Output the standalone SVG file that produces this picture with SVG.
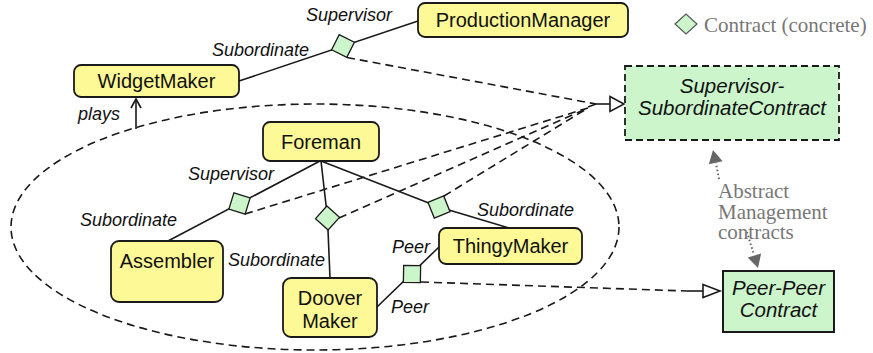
<svg xmlns="http://www.w3.org/2000/svg" width="873" height="353" viewBox="0 0 873 353">
  <style>
    .node rect { fill: #fdf996; stroke: #1a1a1a; stroke-width: 1.8; }
    .ntext { font-family: "Liberation Sans", Arial, sans-serif; font-size: 20px; fill: #111; text-anchor: middle; }
    .ctext { font-family: "Liberation Sans", Arial, sans-serif; font-size: 20.5px; font-style: italic; fill: #111; text-anchor: middle; }
    .lbl { font-family: "Liberation Sans", Arial, sans-serif; font-size: 18px; font-style: italic; fill: #111; }
    .note { font-family: "Liberation Serif", "Times New Roman", serif; font-size: 21px; fill: #777; }
    .solid { fill: none; stroke: #1a1a1a; stroke-width: 1.6; }
    .dash { fill: none; stroke: #1a1a1a; stroke-width: 1.6; stroke-dasharray: 8 5; }
    .dot { fill: none; stroke: #666; stroke-width: 2; stroke-dasharray: 1.5 2.5; }
    .tri { fill: #fff; stroke: #1a1a1a; stroke-width: 1.6; }
    .gtri { fill: #666; stroke: none; }
    .dia { fill: #ccf5cc; stroke: #1a1a1a; stroke-width: 1.3; }
  </style>
  <defs>
    <polygon id="diamond" points="-12,0 0,-12 12,0 0,12"/>
  </defs>

  <!-- role ellipse -->
  <ellipse id="role-scope" cx="315" cy="227" rx="304" ry="123" class="dash"/>

  <g id="connectors">
    <!-- role lines -->
    <line class="solid" x1="239" y1="81" x2="418" y2="21"/>
    <line class="solid" x1="320" y1="161" x2="168" y2="241"/>
    <polyline class="solid" points="321,161 327.5,218 330,278"/>
    <polyline class="solid" points="321,161 439,207 509,228"/>
    <line class="solid" x1="439" y1="247" x2="377" y2="307"/>
    <!-- plays -->
    <line class="solid" x1="136" y1="129" x2="136" y2="99"/>
    <polyline class="solid" points="131,108 136,99 141,108"/>
    <!-- instance-of dashed lines -->
    <line class="dash" x1="347" y1="57.5" x2="596" y2="104"/>
    <line class="dash" x1="245" y1="214" x2="588" y2="108"/>
    <line class="dash" x1="339" y1="218" x2="588" y2="108"/>
    <line class="dash" x1="444" y1="196" x2="588" y2="108"/>
    <line class="solid" x1="588" y1="107" x2="596" y2="104"/>
    <line class="solid" x1="596" y1="104" x2="610" y2="104"/>
    <polygon class="tri" points="610,96.5 624,104 610,111.5"/>
    <line class="dash" x1="421" y1="282" x2="687" y2="291"/>
    <line class="solid" x1="687" y1="291" x2="703" y2="291"/>
    <polygon class="tri" points="703,284.5 720,291 703,297.5"/>
    <!-- abstract management dotted arrows -->
    <line class="dot" x1="719" y1="179" x2="716" y2="163"/>
    <polygon class="gtri" points="713,150 722.6,161.2 708.8,164.2"/>
    <line class="dot" x1="747" y1="232" x2="754" y2="255"/>
    <polygon class="gtri" points="758,268 761.1,253.6 747.7,257.4"/>
  </g>

  <!-- contract instances -->
  <g id="contract-pm-wm"><use href="#diamond" class="dia" transform="translate(343,46) rotate(-18.5)"/></g>
  <g id="contract-fm-as"><use href="#diamond" class="dia" transform="translate(239.5,203.5) rotate(-27.8)"/></g>
  <g id="contract-fm-dm"><use href="#diamond" class="dia" transform="translate(327.5,218) rotate(-3)"/></g>
  <g id="contract-fm-tm"><use href="#diamond" class="dia" transform="translate(439,207) rotate(23)"/></g>
  <g id="contract-peer"><use href="#diamond" class="dia" transform="translate(412,274) rotate(-44)"/></g>

  <!-- nodes -->
  <g id="ProductionManager" class="node">
    <rect x="418" y="3" width="210" height="34" rx="7"/>
    <text class="ntext" x="523" y="27">ProductionManager</text>
  </g>
  <g id="WidgetMaker" class="node">
    <rect x="74" y="65" width="165" height="32" rx="7"/>
    <text class="ntext" x="156.5" y="88">WidgetMaker</text>
  </g>
  <g id="Foreman" class="node">
    <rect x="263" y="122" width="116" height="39" rx="7"/>
    <text class="ntext" x="321" y="148.5">Foreman</text>
  </g>
  <g id="Assembler" class="node">
    <rect x="111" y="241" width="112" height="61" rx="8"/>
    <text class="ntext" x="167" y="268">Assembler</text>
  </g>
  <g id="DooverMaker" class="node">
    <rect x="283" y="278" width="94" height="59" rx="8"/>
    <text class="ntext" x="330" y="305">Doover</text>
    <text class="ntext" x="330" y="328">Maker</text>
  </g>
  <g id="ThingyMaker" class="node">
    <rect x="439" y="228" width="143" height="36" rx="7"/>
    <text class="ntext" x="510.5" y="253">ThingyMaker</text>
  </g>
  <g id="SupervisorSubordinateContract">
    <rect x="625" y="66" width="214" height="74" fill="#ccf5cc" stroke="#1a1a1a" stroke-width="1.8" stroke-dasharray="7 4"/>
    <text class="ctext" x="732" y="93">Supervisor-</text>
    <text class="ctext" x="732" y="115">SubordinateContract</text>
  </g>
  <g id="PeerPeerContract">
    <rect x="723" y="271" width="111" height="61" fill="#ccf5cc" stroke="#1a1a1a" stroke-width="2"/>
    <text class="ctext" x="778.5" y="295">Peer-Peer</text>
    <text class="ctext" x="778.5" y="317">Contract</text>
  </g>

  <!-- role labels -->
  <text class="lbl" x="306" y="21">Supervisor</text>
  <text class="lbl" x="212" y="56">Subordinate</text>
  <text class="lbl" x="78" y="120">plays</text>
  <text class="lbl" x="188" y="180">Supervisor</text>
  <text class="lbl" x="80" y="226">Subordinate</text>
  <text class="lbl" x="228" y="266">Subordinate</text>
  <text class="lbl" x="477" y="216">Subordinate</text>
  <text class="lbl" x="392" y="253">Peer</text>
  <text class="lbl" x="391" y="313">Peer</text>

  <!-- legend -->
  <g id="legend">
    <polygon points="675,24 686,14 697,24 686,34" fill="#ccf5cc" stroke="#555" stroke-width="1.2"/>
    <text class="note" x="704" y="32">Contract (concrete)</text>
  </g>
  <g id="abstract-note">
    <text class="note" x="718" y="198">Abstract</text>
    <text class="note" x="718" y="219">Management</text>
    <text class="note" x="718" y="239">contracts</text>
  </g>
</svg>
